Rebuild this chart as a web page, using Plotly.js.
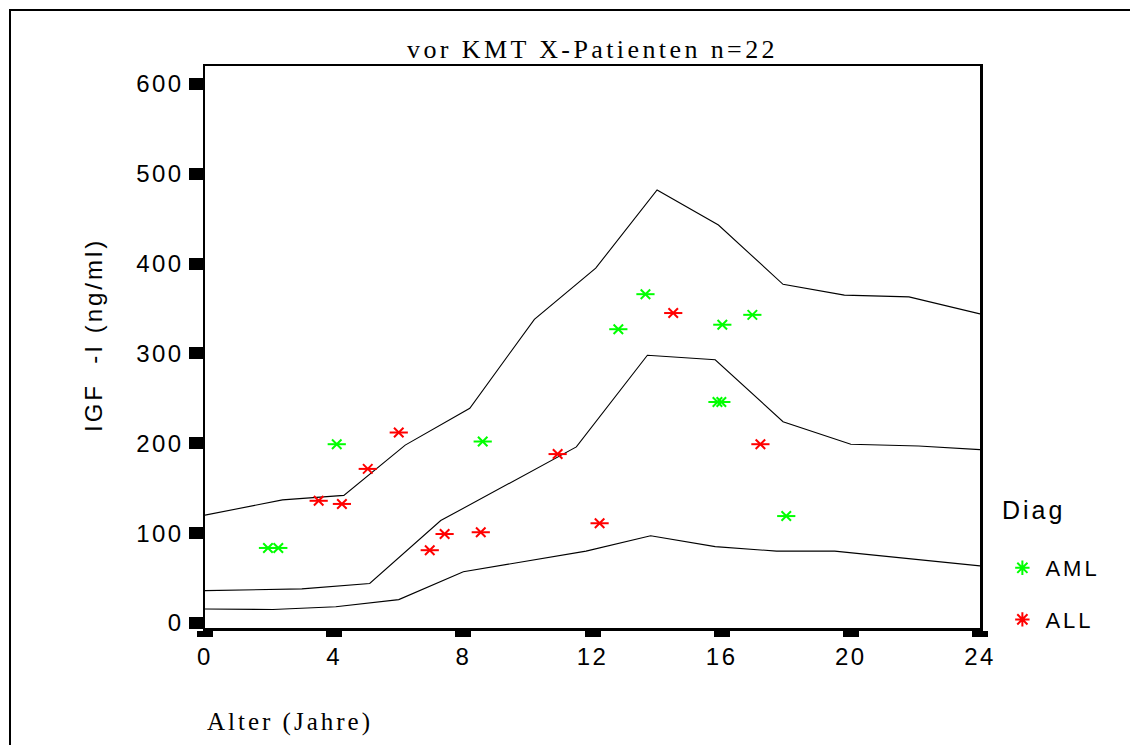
<!DOCTYPE html>
<html>
<head>
<meta charset="utf-8">
<script src="https://cdn.plot.ly/plotly-3.0.1.min.js"></script>
<style>
  html, body { margin: 0; padding: 0; background: #fff; }
  #wrap { position: relative; width: 1130px; height: 745px; overflow: hidden; }
  #chart { width: 1130px; height: 745px; }
  #frame { position: absolute; left: 9px; top: 9px; width: 1300px; height: 900px;
           border-top: 2px solid #000; border-left: 2px solid #000; pointer-events: none; }
  .gtitle { letter-spacing: 3.4px; }
  .ytick text, .xtick text { letter-spacing: 2.5px; }
  .annotation-text { letter-spacing: 3px; }
  .legendtext { letter-spacing: 3px; }
</style>
</head>
<body>
<div id="wrap">
  <div id="chart"></div>
  <div id="frame"></div>
</div>
<script>
// Reference curves (age vs IGF-I)
const upperX = [0, 2.4, 4.3, 6.2, 8.2, 10.2, 12.1, 14.0, 15.9, 17.9, 19.8, 21.8, 24];
const upperY = [120, 137, 142, 198, 239, 338, 395, 482, 443, 377, 365, 363, 344];
const middleX = [0, 3.0, 5.1, 7.3, 11.5, 13.7, 15.8, 17.9, 20.0, 22.1, 24];
const middleY = [36, 38, 44, 114, 196, 298, 293, 224, 199, 197, 193];
const lowerX = [0, 2.1, 4.05, 6.0, 8.0, 11.8, 13.8, 15.8, 17.7, 19.5, 24];
const lowerY = [15.6, 15, 18, 26, 57, 80, 97, 85, 80, 80, 63.5];

// Patients
const amlX = [1.95, 2.27, 4.08, 8.6, 12.8, 13.64, 16.02, 16.95, 15.87, 15.99, 18.0];
const amlY = [83.5, 83.5, 199, 202, 327, 366, 332, 343, 246, 246, 119];
const allX = [3.52, 4.24, 5.04, 6.0, 6.96, 7.42, 8.54, 10.92, 12.22, 14.5, 17.2];
const allY = [136, 132.5, 171.5, 212, 81, 99, 101, 188, 111, 345, 199];

const xTicks = [0, 4, 8, 12, 16, 20, 24];
const yTicks = [0, 100, 200, 300, 400, 500, 600];

const GREEN = '#00ff00', RED = '#ff0000';
const lineStyle = {color: '#000', width: 1.1};

function curve(x, y) {
  return {x: x, y: y, mode: 'lines', line: lineStyle, showlegend: false, hoverinfo: 'skip'};
}
function starPart(x, y, color, symbol, size) {
  return {x: x, y: y, mode: 'markers', showlegend: false,
          marker: {symbol: symbol, size: size, color: color, line: {color: color, width: 2}}};
}
function legendOnly(name, color, group) {
  return {x: [null], y: [null], mode: 'markers', name: name, legendgroup: group,
          marker: {symbol: 'asterisk-open', size: 12, color: color, line: {color: color, width: 2}}};
}

const data = [
  curve(upperX, upperY), curve(middleX, middleY), curve(lowerX, lowerY),
  starPart(amlX, amlY, GREEN, 'x-thin-open', 9.5), starPart(amlX, amlY, GREEN, 'line-ew-open', 13),
  starPart(allX, allY, RED, 'x-thin-open', 9.5), starPart(allX, allY, RED, 'line-ew-open', 13),
  legendOnly('AML', GREEN, 'a'), legendOnly('ALL', RED, 'b')
];

const sans = 'Liberation Sans, Arial, sans-serif';
const serif = 'Liberation Serif, Times New Roman, serif';

const layout = {
  width: 1130, height: 745,
  margin: {l: 205, r: 150, t: 66, b: 117},
  paper_bgcolor: '#fff', plot_bgcolor: '#fff',
  title: {text: 'vor KMT X-Patienten n=22', font: {family: serif, size: 26, color: '#000'},
          x: 0.5, xref: 'paper', xanchor: 'center', y: 1 - 49/745, yref: 'container', yanchor: 'middle'},
  xaxis: {range: [0, 24], tickvals: xTicks, ticktext: xTicks.map(String),
          showgrid: false, zeroline: false, showline: true, linecolor: '#000', linewidth: 2.5, mirror: true,
          ticks: 'outside', ticklen: 6, tickwidth: 16, tickcolor: '#000',
          tickfont: {family: sans, size: 24, color: '#000'}},
  yaxis: {range: [-5.6, 620], tickvals: yTicks, ticktext: yTicks.map(String),
          showgrid: false, zeroline: false, showline: true, linecolor: '#000', linewidth: 2.5, mirror: true,
          ticks: 'outside', ticklen: 14, tickwidth: 12, tickcolor: '#000',
          tickfont: {family: sans, size: 24, color: '#000'}},
  showlegend: true,
  legend: {x: 1.025, xanchor: 'left', y: (628 - 547) / 562, yanchor: 'top',
           bgcolor: 'rgba(0,0,0,0)', borderwidth: 0, tracegroupgap: 20, itemwidth: 36,
           font: {family: sans, size: 22, color: '#000'}},
  annotations: [
    {text: 'Alter (Jahre)', xref: 'paper', yref: 'paper', x: 0, xanchor: 'left',
     y: (628 - 722) / 562, yanchor: 'middle', showarrow: false,
     font: {family: serif, size: 25, color: '#000'}},
    {text: 'IGF\u00a0\u00a0-I (ng/ml)', xref: 'paper', yref: 'paper', x: (93 - 205) / 775, xanchor: 'center',
     y: (628 - 335) / 562, yanchor: 'middle', textangle: -90, showarrow: false,
     font: {family: sans, size: 24, color: '#000'}},
    {text: 'Diag', xref: 'paper', yref: 'paper', x: (1000 - 205) / 775, xanchor: 'left',
     y: (628 - 510) / 562, yanchor: 'middle', showarrow: false,
     font: {family: sans, size: 25, color: '#000'}}
  ]
};

Plotly.newPlot('chart', data, layout, {displayModeBar: false, staticPlot: true});
</script>
</body>
</html>
